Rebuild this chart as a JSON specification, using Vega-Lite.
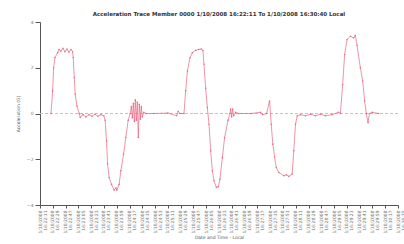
{
  "$schema": "https://vega.github.io/schema/vega-lite/v6.json",
  "width": 358,
  "height": 183,
  "autosize": "none",
  "padding": {"left": 40, "top": 22, "right": 6, "bottom": 39},
  "background": "#ffffff",
  "title": {
    "text": "Acceleration Trace   Member 0000   1/10/2008   16:22:11   To   1/10/2008   16:30:40   Local",
    "fontSize": 5.5,
    "fontWeight": "bold",
    "font": "DejaVu Sans",
    "color": "#333333",
    "offset": 2,
    "anchor": "middle"
  },
  "config": {
    "view": {"stroke": null},
    "axis": {"grid": false, "domainColor": "#555555", "tickColor": "#555555", "labelColor": "#777777", "titleColor": "#555555", "labelFont": "DejaVu Sans", "titleFont": "DejaVu Sans"}
  },
  "data": {
    "values": [
      {"t": 15.5, "v": 0}, {"t": 17.8, "v": 1.0}, {"t": 19.2, "v": 2.0}, {"t": 21.1, "v": 2.45},
      {"t": 24.9, "v": 2.66}, {"t": 26.7, "v": 2.8}, {"t": 29.5, "v": 2.72}, {"t": 32.3, "v": 2.85},
      {"t": 35.1, "v": 2.7}, {"t": 37.9, "v": 2.82}, {"t": 40.7, "v": 2.68}, {"t": 43.6, "v": 2.8},
      {"t": 45.9, "v": 2.7}, {"t": 46.8, "v": 2.45}, {"t": 48.2, "v": 1.57}, {"t": 49.6, "v": 0.84},
      {"t": 52.0, "v": 0.33}, {"t": 55.2, "v": 0.0}, {"t": 56.6, "v": -0.17}, {"t": 60.4, "v": -0.05},
      {"t": 64.6, "v": -0.15}, {"t": 68.8, "v": -0.05}, {"t": 73.1, "v": -0.12}, {"t": 77.3, "v": -0.03},
      {"t": 81.5, "v": -0.12}, {"t": 85.7, "v": -0.05}, {"t": 89.9, "v": -0.1}, {"t": 91.7, "v": -0.3},
      {"t": 93.7, "v": -1.2}, {"t": 95.1, "v": -2.2}, {"t": 97.4, "v": -2.8}, {"t": 100.7, "v": -3.1},
      {"t": 104.4, "v": -3.35}, {"t": 106.8, "v": -3.25}, {"t": 108.2, "v": -3.35}, {"t": 111.4, "v": -3.1},
      {"t": 113.8, "v": -2.5}, {"t": 117.6, "v": -1.78}, {"t": 120.8, "v": -1.05}, {"t": 124.1, "v": -0.3},
      {"t": 126.9, "v": 0}, {"t": 128.6, "v": 0.3}, {"t": 130.0, "v": -0.2}, {"t": 131.4, "v": 0.45},
      {"t": 132.8, "v": -0.35}, {"t": 134.2, "v": 0.6}, {"t": 135.6, "v": -0.3}, {"t": 137.0, "v": 0.5},
      {"t": 138.4, "v": -1.05}, {"t": 139.8, "v": 0.4}, {"t": 141.2, "v": -0.25}, {"t": 142.6, "v": 0.3},
      {"t": 144.0, "v": -0.15}, {"t": 146.1, "v": 0.05}, {"t": 148.9, "v": 0}, {"t": 160, "v": 0},
      {"t": 180, "v": 0.02}, {"t": 192.5, "v": -0.1}, {"t": 194.5, "v": 0.1}, {"t": 197, "v": 0},
      {"t": 202.7, "v": 0}, {"t": 205.1, "v": 1.0}, {"t": 207.5, "v": 1.86}, {"t": 211.2, "v": 2.44},
      {"t": 214.5, "v": 2.66}, {"t": 219.2, "v": 2.76}, {"t": 223.4, "v": 2.8}, {"t": 227.2, "v": 2.82},
      {"t": 229.4, "v": 2.75}, {"t": 230.8, "v": 2.15}, {"t": 233.2, "v": 1.1}, {"t": 235.6, "v": 0.26},
      {"t": 237.9, "v": -0.47}, {"t": 240.3, "v": -1.63}, {"t": 242.6, "v": -2.5}, {"t": 244.9, "v": -2.94},
      {"t": 248.3, "v": -3.23}, {"t": 251.1, "v": -3.2}, {"t": 253.3, "v": -2.87}, {"t": 256.7, "v": -1.93},
      {"t": 259.9, "v": -1.05}, {"t": 264.6, "v": -0.3}, {"t": 267.4, "v": 0}, {"t": 268.4, "v": 0.2},
      {"t": 269.8, "v": -0.15}, {"t": 271.2, "v": 0.2}, {"t": 272.6, "v": -0.1}, {"t": 275.4, "v": 0.05},
      {"t": 279.6, "v": 0}, {"t": 296.5, "v": 0}, {"t": 310.5, "v": 0.05}, {"t": 313.3, "v": -0.05},
      {"t": 319, "v": 0}, {"t": 323.2, "v": 0.55}, {"t": 325.5, "v": -0.47}, {"t": 327.8, "v": -1.34},
      {"t": 330.2, "v": -1.9}, {"t": 332.6, "v": -2.36}, {"t": 336.2, "v": -2.58}, {"t": 343.2, "v": -2.72},
      {"t": 347.0, "v": -2.68}, {"t": 350.3, "v": -2.75}, {"t": 355.0, "v": -2.65}, {"t": 357.3, "v": -1.63},
      {"t": 359.7, "v": -0.47}, {"t": 362.1, "v": -0.1}, {"t": 366.7, "v": -0.05}, {"t": 373.7, "v": -0.1},
      {"t": 380.8, "v": -0.03}, {"t": 387.8, "v": -0.1}, {"t": 394.8, "v": -0.03}, {"t": 401.8, "v": -0.1},
      {"t": 411.2, "v": -0.05}, {"t": 420.1, "v": 0.05}, {"t": 422.9, "v": 0}, {"t": 426.1, "v": 1.27},
      {"t": 428.9, "v": 2.58}, {"t": 432.3, "v": 3.23}, {"t": 437.0, "v": 3.38}, {"t": 441.6, "v": 3.3},
      {"t": 443.9, "v": 3.42}, {"t": 446.3, "v": 2.98}, {"t": 451.0, "v": 2.0}, {"t": 454.3, "v": 1.42},
      {"t": 457.0, "v": 0.55}, {"t": 459.4, "v": 0}, {"t": 461.8, "v": -0.4}, {"t": 463.7, "v": 0},
      {"t": 467.9, "v": 0.05}, {"t": 476.7, "v": 0}
    ]
  },
  "layer": [
    {
      "mark": {"type": "rule", "color": "#f0b0b8", "strokeWidth": 1, "strokeDash": [3, 2]},
      "encoding": {"y": {"datum": 0, "type": "quantitative"}}
    },
    {
      "mark": {"type": "line", "color": "#e8607a", "strokeWidth": 0.9, "opacity": 0.75, "point": {"filled": true, "size": 2.5, "color": "#e05070", "opacity": 0.7}},
      "encoding": {
        "x": {
          "field": "t", "type": "quantitative",
          "scale": {"domain": [0, 504], "nice": false, "zero": false},
          "axis": {
            "values": [0, 18, 36, 54, 72, 90, 108, 126, 144, 162, 180, 198, 216, 234, 252, 270, 288, 306, 324, 342, 360, 378, 396, 414, 432, 450, 468, 486, 504],
            "labelExpr": "['1/10/2008', timeFormat(datetime(2008, 0, 10, 16, 22, 11 + datum.value), '%H:%M:%S')]",
            "labelAngle": -90,
            "labelAlign": "right",
            "labelBaseline": "middle",
            "labelFontSize": 4.5,
            "labelLineHeight": 5,
            "labelPadding": 2,
            "labelOverlap": false,
            "tickSize": 3,
            "title": "Date and Time - Local",
            "titleFontSize": 4.5,
            "titleFontWeight": "normal",
            "titlePadding": 1
          }
        },
        "y": {
          "field": "v", "type": "quantitative",
          "scale": {"domain": [-4, 4], "nice": false},
          "axis": {
            "values": [-4, -3, -2, -1, 0, 1, 2, 3, 4],
            "labelFontSize": 4.5,
            "labelOverlap": false,
            "tickSize": 5,
            "labelPadding": 2,
            "title": "Acceleration (G)",
            "titleFontSize": 4.5,
            "titleFontWeight": "normal",
            "titlePadding": 6
          }
        }
      }
    }
  ]
}
